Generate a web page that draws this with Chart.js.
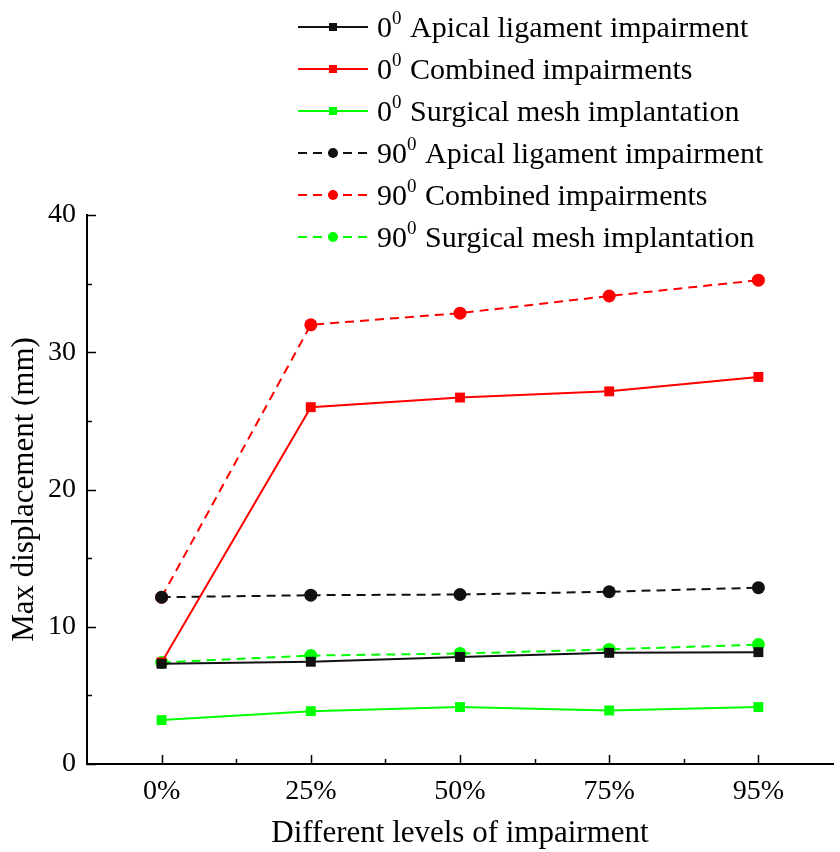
<!DOCTYPE html>
<html>
<head>
<meta charset="utf-8">
<script src="https://cdn.jsdelivr.net/npm/chart.js@4.4.0/dist/chart.umd.min.js"></script>
<style>
  body { margin: 0; background: #fff; }
</style>
</head>
<body>
<canvas id="chart" width="840" height="852"></canvas>
<script>
// data
const levels = ["0%", "25%", "50%", "75%", "95%"];
const apical0 = [7.3, 7.45, 7.8, 8.1, 8.15];
const combined0 = [7.4, 26.0, 26.7, 27.15, 28.2];
const mesh0 = [3.2, 3.85, 4.15, 3.9, 4.15];
const apical90 = [12.15, 12.3, 12.35, 12.55, 12.85];
const combined90 = [12.15, 32.0, 32.85, 34.1, 35.25];
const mesh90 = [7.4, 7.9, 8.05, 8.35, 8.7];
const seriesNames = [
  "0⁰ Apical ligament impairment",
  "0⁰ Combined impairments",
  "0⁰ Surgical mesh implantation",
  "90⁰ Apical ligament impairment",
  "90⁰ Combined impairments",
  "90⁰ Surgical mesh implantation",
];
const yMin = 0, yMax = 40, yStep = 10;

const FONT = "'Liberation Serif', 'Times New Roman', serif";

function solid(label, data, color) {
  return {
    label, data,
    borderColor: color, backgroundColor: color,
    borderWidth: 2, pointStyle: "rect", pointRadius: 7, pointHoverRadius: 7,
    pointBorderWidth: 0, tension: 0,
  };
}
function dashed(label, data, color) {
  return {
    label, data,
    borderColor: color, backgroundColor: color,
    borderWidth: 2, borderDash: [9, 6], pointStyle: "circle", pointRadius: 6.5, pointHoverRadius: 6.5,
    pointBorderWidth: 0, tension: 0,
  };
}

// ticks pointing inward + minor ticks, and the legend drawn over the plot
const decor = {
  id: "decor",
  afterDraw(chart) {
    const ctx = chart.ctx;
    const xs = chart.scales.x, ys = chart.scales.y;
    const a = chart.chartArea;
    ctx.save();
    ctx.strokeStyle = "#000";
    ctx.lineWidth = 1.5;
    // y ticks
    for (let v = yMin; v <= yMax; v += yStep / 2) {
      const py = Math.round(ys.getPixelForValue(v)) + 0.5;
      const len = (v % yStep === 0) ? 9 : 5;
      ctx.beginPath(); ctx.moveTo(a.left, py); ctx.lineTo(a.left + len, py); ctx.stroke();
    }
    // x ticks
    for (let i = 0; i < levels.length; i++) {
      const px = Math.round(xs.getPixelForValue(i)) + 0.5;
      ctx.beginPath(); ctx.moveTo(px, a.bottom); ctx.lineTo(px, a.bottom - 9); ctx.stroke();
      if (i < levels.length - 1) {
        const pm = Math.round(xs.getPixelForValue(i + 0.5)) + 0.5;
        ctx.beginPath(); ctx.moveTo(pm, a.bottom); ctx.lineTo(pm, a.bottom - 5); ctx.stroke();
      }
    }
    // legend
    const x0 = 298, x1 = 368, tx = 377, top = 27, step = 42;
    chart.data.datasets.forEach((ds, k) => {
      const y = top + k * step;
      ctx.strokeStyle = ds.borderColor;
      ctx.lineWidth = 2;
      ctx.setLineDash(ds.borderDash || []);
      ctx.beginPath(); ctx.moveTo(x0, y); ctx.lineTo(x1, y); ctx.stroke();
      ctx.setLineDash([]);
      ctx.fillStyle = ds.backgroundColor;
      const cx = (x0 + x1) / 2;
      if (ds.pointStyle === "rect") {
        ctx.fillRect(cx - 4, y - 4, 8, 8);
      } else {
        ctx.beginPath(); ctx.arc(cx, y, 5, 0, Math.PI * 2); ctx.fill();
      }
      const [num, rest] = ds.label.split("⁰");
      ctx.fillStyle = "#000";
      ctx.textBaseline = "alphabetic";
      ctx.font = "30px " + FONT;
      const base = y + 10;
      ctx.fillText(num, tx, base);
      let w = ctx.measureText(num).width;
      ctx.font = "19px " + FONT;
      ctx.fillText("0", tx + w, base - 13);
      w += ctx.measureText("0").width + 1;
      ctx.font = "30px " + FONT;
      ctx.fillText(rest, tx + w, base);
    });
    ctx.restore();
  },
};

new Chart(document.getElementById("chart").getContext("2d"), {
  type: "line",
  data: {
    labels: levels,
    datasets: [
      solid(seriesNames[0], apical0, "#111111"),
      solid(seriesNames[1], combined0, "#ff0000"),
      solid(seriesNames[2], mesh0, "#00ff00"),
      dashed(seriesNames[3], apical90, "#111111"),
      dashed(seriesNames[4], combined90, "#ff0000"),
      dashed(seriesNames[5], mesh90, "#00ff00"),
    ],
  },
  options: {
    responsive: false,
    animation: false,
    layout: { padding: { top: 215, right: 0, bottom: 0, left: 0 } },
    scales: {
      x: {
        offset: true,
        grid: { display: false, drawTicks: false },
        border: { display: true, color: "#000", width: 2 },
        ticks: { color: "#000", font: { family: FONT, size: 28 }, padding: 11 },
        title: {
          display: true, text: "Different levels of impairment", color: "#000",
          font: { family: FONT, size: 31 }, padding: { top: 14, bottom: 0 },
        },
        afterFit(s) { s.height = 88; },
      },
      y: {
        min: yMin, max: yMax,
        grid: { display: false, drawTicks: false },
        border: { display: true, color: "#000", width: 2 },
        ticks: { stepSize: yStep, color: "#000", font: { family: FONT, size: 28 }, padding: 11 },
        title: {
          display: true, text: "Max displacement (mm)", color: "#000",
          font: { family: FONT, size: 31 }, padding: { top: 6, bottom: 0 },
        },
        afterFit(s) { s.width = 87; },
      },
    },
    plugins: {
      legend: { display: false },
      tooltip: { enabled: false },
    },
  },
  plugins: [decor],
});
</script>
</body>
</html>
